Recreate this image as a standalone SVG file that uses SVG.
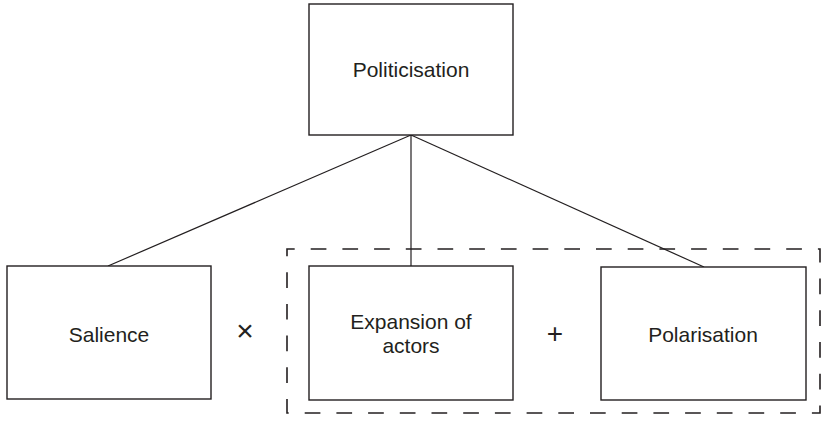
<svg xmlns="http://www.w3.org/2000/svg" width="824" height="421" viewBox="0 0 824 421">
<style>
.box{fill:#fff;stroke:#231f20;stroke-width:1.4}
.lbl{font-family:"Liberation Sans",Arial,sans-serif;font-size:21px;fill:#231f20;text-anchor:middle}
.op{font-family:"Liberation Sans",Arial,sans-serif;fill:#231f20;text-anchor:middle}
.conn{stroke:#231f20;stroke-width:1.2;fill:none}
.group{fill:none;stroke:#231f20;stroke-width:1.6;stroke-dasharray:15.7,16;stroke-dashoffset:8}
</style>
<rect width="824" height="421" fill="#fff"/>
<g id="group-box">
<rect class="group" x="287" y="249" width="533" height="164"/>
</g>
<g id="connectors">
<line class="conn" x1="411" y1="135" x2="108" y2="266"/>
<line class="conn" x1="411" y1="135" x2="411" y2="266"/>
<line class="conn" x1="411" y1="135" x2="704" y2="267"/>
</g>
<g id="politicisation">
<rect class="box" x="309" y="4" width="204" height="131"/>
<text class="lbl" x="411" y="77">Politicisation</text>
</g>
<g id="salience">
<rect class="box" x="7" y="266" width="204" height="133"/>
<text class="lbl" x="109" y="342">Salience</text>
</g>
<g id="expansion">
<rect class="box" x="309" y="266" width="204" height="134"/>
<text class="lbl" x="411" y="329">Expansion of</text>
<text class="lbl" x="411" y="353">actors</text>
</g>
<g id="polarisation">
<rect class="box" x="601" y="267" width="205" height="133"/>
<text class="lbl" x="703" y="342">Polarisation</text>
</g>
<g id="operators">
<text class="op" x="245" y="341" font-size="30">×</text>
<text class="op" x="555" y="343" font-size="28">+</text>
</g>
</svg>
